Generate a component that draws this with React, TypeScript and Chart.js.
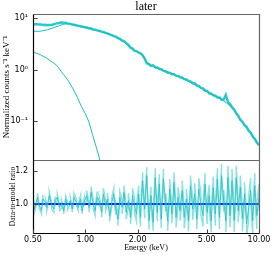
import React, { useEffect, useRef } from 'react';
import { Chart, registerables } from 'chart.js';

Chart.register(...registerables);

// Energy bins (keV) of the spectrum / ratio
const energies = [
  0.50, 0.51, 0.53, 0.54, 0.56, 0.57, 0.59, 0.60, 0.62, 0.64, 0.66, 0.67, 0.69, 0.71, 0.73, 0.75, 0.77, 0.79, 0.82, 0.84,
  0.86, 0.89, 0.91, 0.94, 0.96, 0.99, 1.02, 1.05, 1.08, 1.11, 1.14, 1.17, 1.20, 1.24, 1.27, 1.31, 1.34, 1.38, 1.42, 1.46,
  1.50, 1.54, 1.58, 1.63, 1.67, 1.72, 1.77, 1.82, 1.87, 1.92, 1.97, 2.03, 2.08, 2.14, 2.20, 2.26, 2.33, 2.39, 2.46, 2.53,
  2.60, 2.67, 2.74, 2.82, 2.90, 2.98, 3.06, 3.15, 3.24, 3.33, 3.42, 3.51, 3.61, 3.71, 3.82, 3.92, 4.03, 4.15, 4.26, 4.38,
  4.50, 4.63, 4.76, 4.89, 5.03, 5.17, 5.31, 5.46, 5.61, 5.77, 5.93, 6.09, 6.26, 6.44, 6.62, 6.80, 6.99, 7.19, 7.39, 7.59,
  7.80, 8.02, 8.25, 8.48, 8.71, 8.95, 9.20, 9.46, 9.72, 10.0,
];

// Observed spectrum (counts s^-1 keV^-1)
const spectrum = [
  7.7, 7.55, 7.6, 7.45, 7.5, 7.35, 7.4, 7.25, 7.3, 7.35, 7.55, 7.7, 7.95, 8.0, 8.25, 8.05, 8.1, 7.85, 7.7, 7.45,
  7.4, 7.15, 7.1, 6.85, 6.85, 6.6, 6.55, 6.3, 6.25, 6.0, 5.95, 5.75, 5.65, 5.45, 5.35, 5.15, 5.05, 4.8, 4.65, 4.45,
  4.35, 4.05, 3.95, 3.65, 3.55, 3.25, 3.0, 2.65, 2.55, 2.3, 2.28, 2.12, 2.07, 1.88, 1.62, 1.33, 1.28, 1.18, 1.2, 1.1,
  1.1, 1.02, 1.01, 0.94, 0.93, 0.87, 0.87, 0.81, 0.81, 0.76, 0.75, 0.71, 0.70, 0.65, 0.64, 0.60, 0.59, 0.54, 0.54, 0.49,
  0.48, 0.44, 0.43, 0.39, 0.385, 0.345, 0.34, 0.315, 0.31, 0.285, 0.285, 0.26, 0.262, 0.32, 0.235, 0.215, 0.185, 0.168, 0.142, 0.127,
  0.106, 0.097, 0.083, 0.077, 0.065, 0.060, 0.050, 0.045, 0.038, 0.034,
];

// Data-to-model ratio
const ratio = [
  1.02, 0.97, 1.04, 1.00, 0.96, 1.03, 1.01, 0.98, 1.05, 0.99, 0.97, 1.02, 1.04, 0.98, 1.00, 0.96, 1.03, 0.99, 1.02, 0.97,
  1.04, 1.01, 0.98, 1.03, 0.96, 1.02, 1.05, 0.98, 1.07, 1.00, 0.96, 1.04, 1.02, 0.95, 1.06, 0.99, 1.03, 0.93, 1.01, 1.06,
  0.97, 0.91, 1.04, 0.98, 1.07, 0.95, 1.02, 0.92, 1.05, 0.99, 0.94, 1.06, 0.92, 1.14, 0.97, 1.17, 0.90, 1.05, 0.89, 1.16,
  0.95, 1.12, 0.91, 1.15, 1.01, 0.90, 1.09, 0.94, 1.13, 0.92, 1.04, 0.96, 1.08, 0.92, 1.03, 0.90, 1.11, 0.97, 1.06, 0.91,
  1.09, 1.00, 0.93, 1.12, 0.95, 1.05, 0.90, 1.10, 0.94, 1.15, 0.92, 1.17, 1.02, 0.90, 1.16, 0.93, 1.14, 0.90, 1.16, 0.96,
  1.10, 0.91, 1.06, 0.88, 0.97, 1.08, 0.90, 1.11, 0.93, 1.04,
];

// Ratio uncertainties
const ratioErr = [
  0.02, 0.02, 0.025, 0.02, 0.02, 0.025, 0.02, 0.02, 0.025, 0.02, 0.02, 0.025, 0.02, 0.02, 0.025, 0.02, 0.02, 0.025, 0.02, 0.02,
  0.025, 0.02, 0.02, 0.025, 0.02, 0.025, 0.03, 0.03, 0.035, 0.03, 0.03, 0.035, 0.03, 0.03, 0.035, 0.03, 0.035, 0.035, 0.03, 0.035,
  0.035, 0.04, 0.035, 0.04, 0.04, 0.04, 0.045, 0.04, 0.045, 0.045, 0.045, 0.05, 0.055, 0.05, 0.055, 0.05, 0.055, 0.055, 0.05, 0.055,
  0.055, 0.06, 0.055, 0.06, 0.055, 0.06, 0.06, 0.055, 0.06, 0.06, 0.06, 0.06, 0.06, 0.065, 0.06, 0.065, 0.06, 0.065, 0.065, 0.06,
  0.065, 0.065, 0.065, 0.065, 0.07, 0.065, 0.07, 0.065, 0.07, 0.065, 0.07, 0.07, 0.065, 0.07, 0.07, 0.07, 0.07, 0.07, 0.07, 0.07,
  0.07, 0.075, 0.07, 0.075, 0.075, 0.075, 0.08, 0.075, 0.08, 0.08,
];

// Hard model component
const hardE = [0.50, 0.55, 0.60, 0.65, 0.70, 0.75, 0.80, 0.90, 1.0, 1.2, 1.4, 1.6, 1.8, 1.9, 2.0, 2.1, 2.2, 2.3, 2.5, 3.0,
  3.5, 4.0, 4.5, 5.0, 5.5, 6.0, 6.5, 7.0, 7.5, 8.0, 8.5, 9.0, 9.5, 10.0];
const hardComp = [5.5, 5.55, 5.85, 6.4, 7.0, 7.6, 7.8, 7.2, 6.6, 5.6, 4.75, 3.85, 2.8, 2.4, 2.2, 2.02, 1.6, 1.25, 1.12, 0.89,
  0.72, 0.57, 0.46, 0.37, 0.315, 0.27, 0.225, 0.18, 0.13, 0.095, 0.073, 0.056, 0.044, 0.034];

// Soft model component
const softE = [0.50, 0.55, 0.60, 0.626, 0.65, 0.684, 0.70, 0.731, 0.75, 0.80, 0.85, 0.90, 0.95, 1.00, 1.05, 1.10, 1.15, 1.20, 1.25];
const softComp = [2.19, 1.95, 1.65, 1.51, 1.38, 1.21, 1.1, 0.89, 0.8, 0.6, 0.42, 0.29, 0.19, 0.14, 0.095, 0.055, 0.033, 0.02, 0.012];

const unityE = [0.5, 10];
const unityV = [1.0, 1.0];

const xTicks = [0.5, 1, 2, 5, 10];
const yTicks = [0.1, 1, 10];
const yTickLabels = ['10⁻¹', '10⁰', '10¹'];
const ratioTicks = [1.0, 1.2];

const CYAN = '#17c0c0';
const CYAN_LIGHT = '#2fc8c8';
const CYAN_ERR = 'rgba(40,200,200,0.55)';

export default function App() {
  const ref = useRef<HTMLCanvasElement>(null);

  useEffect(() => {
    const pts = (xs: number[], ys: number[]) => xs.map((x, i) => ({ x, y: ys[i] }));
    const errPts: { x: number; y: number }[] = [];
    energies.forEach((e, i) => {
      const lo = { x: e, y: ratio[i] - ratioErr[i] };
      const hi = { x: e, y: ratio[i] + ratioErr[i] };
      if (i % 2 === 0) errPts.push(lo, hi); else errPts.push(hi, lo);
    });

    const frame = {
      id: 'frame',
      afterDatasetsDraw(chart: any) {
        const { ctx, chartArea: ca } = chart;
        const ys = chart.scales.y;
        const rs = chart.scales.yr;
        const xs = chart.scales.x;
        const L = Math.round(ca.left) + 0.5;
        const R = Math.round(ca.right) + 0.5;
        const T = Math.round(ca.top) + 0.5;
        const B = Math.round(ca.bottom) + 0.5;
        const M = Math.round(ys.bottom) + 0.5;
        ctx.save();
        ctx.lineWidth = 1.2;
        ctx.strokeStyle = '#666';
        ctx.beginPath();
        ctx.moveTo(L, T); ctx.lineTo(R, T); ctx.lineTo(R, B);
        ctx.moveTo(L, M); ctx.lineTo(R, M);
        ctx.stroke();
        ctx.strokeStyle = '#000';
        ctx.beginPath();
        ctx.moveTo(L, T); ctx.lineTo(L, B); ctx.lineTo(R, B);
        ctx.stroke();
        ctx.strokeStyle = '#444';
        ctx.lineWidth = 1;
        ctx.beginPath();
        yTicks.forEach((v) => { const p = Math.round(ys.getPixelForValue(v)) + 0.5; ctx.moveTo(L, p); ctx.lineTo(L + 4, p); });
        ratioTicks.forEach((v) => { const p = Math.round(rs.getPixelForValue(v)) + 0.5; ctx.moveTo(L, p); ctx.lineTo(L + 4, p); });
        xTicks.forEach((v) => { const p = Math.round(xs.getPixelForValue(v)) + 0.5; ctx.moveTo(p, B); ctx.lineTo(p, B - 4); });
        ctx.stroke();
        ctx.fillStyle = '#000';
        ctx.font = '12px "Liberation Serif"';
        ctx.textAlign = 'center';
        ctx.textBaseline = 'middle';
        ctx.fillText('later', (ca.left + ca.right) / 2, 7);
        ctx.restore();
      },
    };

    const tickFont = { family: 'DejaVu Sans', size: 8 };

    const chart = new Chart(ref.current as HTMLCanvasElement, {
      type: 'line',
      data: {
        datasets: [
          { label: 'soft', data: pts(softE, softComp), yAxisID: 'y', borderColor: CYAN, borderWidth: 1 },
          { label: 'hard', data: pts(hardE, hardComp), yAxisID: 'y', borderColor: CYAN, borderWidth: 1 },
          { label: 'data', data: pts(energies, spectrum), yAxisID: 'y', borderColor: CYAN_LIGHT, borderWidth: 2.5 },
          { label: 'ratioErr', data: errPts, yAxisID: 'yr', borderColor: CYAN_ERR, borderWidth: 1.4 },
          { label: 'ratio', data: pts(energies, ratio), yAxisID: 'yr', borderColor: '#1cbaba', borderWidth: 0.8 },
          { label: 'unity', data: pts(unityE, unityV), yAxisID: 'yr', borderColor: '#0000ff', borderWidth: 2 },
        ] as any,
      },
      options: {
        animation: false,
        responsive: false,
        layout: { padding: { top: 14, right: 15, left: 0, bottom: 0 } },
        plugins: { legend: { display: false }, tooltip: { enabled: false }, title: { display: false } },
        elements: { point: { radius: 0 }, line: { tension: 0 } },
        scales: {
          x: {
            type: 'logarithmic', axis: 'x', min: 0.5, max: 10, position: 'bottom',
            grid: { display: false, drawTicks: false }, border: { display: false },
            afterBuildTicks: (s: any) => { s.ticks = xTicks.map((v) => ({ value: v })); },
            afterFit: (s: any) => { s.height = 23; },
            ticks: { callback: (v: any) => Number(v).toFixed(2), font: tickFont, color: '#000', padding: 2, maxRotation: 0, autoSkip: false },
            title: { display: true, text: 'Energy (keV)', font: { family: 'Liberation Serif', size: 8 }, color: '#000', padding: { top: 0, bottom: 3 } },
          },
          yr: {
            type: 'linear', axis: 'y', position: 'left', stack: 'p', stackWeight: 1, min: 0.826, max: 1.264,
            grid: { display: false, drawTicks: false }, border: { display: false },
            afterBuildTicks: (s: any) => { s.ticks = ratioTicks.map((v) => ({ value: v })); },
            afterFit: (s: any) => { s.width = 33; },
            ticks: { callback: (v: any) => Number(v).toFixed(1), font: tickFont, color: '#000', padding: 5, autoSkip: false },
            title: { display: true, text: 'Data-to-model ratio', font: { family: 'Liberation Serif', size: 7.5 }, color: '#000', padding: { top: 9, bottom: 0 } },
          },
          y: {
            type: 'logarithmic', axis: 'y', position: 'left', stack: 'p', stackWeight: 2, min: 0.0175, max: 11.97,
            grid: { display: false, drawTicks: false }, border: { display: false },
            afterBuildTicks: (s: any) => { s.ticks = yTicks.map((v) => ({ value: v })); },
            afterFit: (s: any) => { s.width = 33; },
            ticks: { callback: (_v: any, i: number) => yTickLabels[i], font: tickFont, color: '#000', padding: 5, autoSkip: false },
            title: { display: true, text: 'Normalized counts s⁻¹ keV⁻¹', font: { family: 'Liberation Serif', size: 9 }, color: '#000', padding: { top: 1, bottom: 0 } },
          },
        },
      } as any,
      plugins: [frame],
    });
    return () => chart.destroy();
  }, []);

  return (
    <div style={{ position: 'fixed', left: 0, top: 0, width: 274, height: 256, background: '#fff' }}>
      <canvas ref={ref} width={274} height={256} style={{ width: 274, height: 256, display: 'block' }} />
    </div>
  );
}
